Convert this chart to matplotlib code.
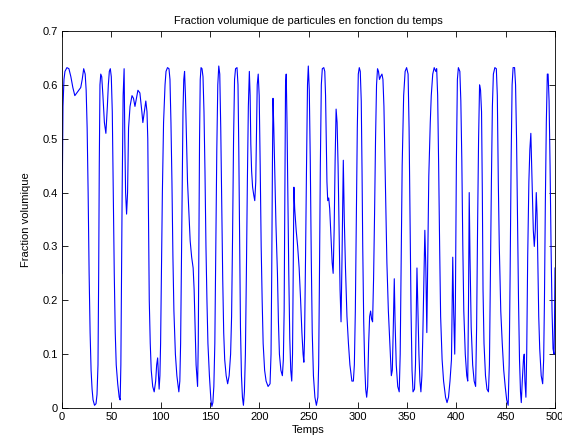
import matplotlib
matplotlib.use("Agg")
import matplotlib.pyplot as plt

plt.rcParams['font.family'] = ['Liberation Sans', 'DejaVu Sans']

temps = [0, 0.5, 1, 2, 3, 5, 7, 9, 11, 13, 15, 17, 19, 20.5, 22, 23.5, 24.5, 25.5, 26.5, 27.5,
         28.5, 29.5, 30.5, 31.5, 33, 34.5, 35.5, 36.5, 37.2, 37.8, 38.5, 39.3, 40.3, 41.5, 43, 44.5, 46, 47, 48, 49,
         50, 51, 52, 53, 54, 55, 56.5, 58, 59, 59.7, 60.3, 61, 62, 63, 63.7, 64.5, 65.5, 66.5, 67.5, 69,
         71, 72.5, 74, 75.5, 77, 79, 81, 82, 83.5, 85, 86.2, 87, 87.7, 88.5, 89.5, 90.5, 92, 93.5, 95, 96,
         97, 97.8, 98.5, 99.3, 100, 100.8, 101.8, 103, 104.5, 105.5, 107, 108.5, 109.5, 110.5, 111.5, 112.5, 113.5, 115, 116.5, 118.5,
         119.5, 120.3, 121, 121.8, 122.7, 123.5, 124.3, 125.2, 126.2, 127.3, 128.5, 130, 131.5, 133, 134, 135, 136, 137.5, 138.2, 138.8,
         139.5, 140.2, 141, 142, 143, 144, 145, 146, 147, 148, 149.5, 151, 152, 153, 154, 155, 156, 157, 158, 159,
         160, 161, 162, 163, 164, 165, 166.5, 168, 169.5, 171, 172, 173, 174, 175, 176, 177.5, 178.5, 179.3, 180.2, 181,
         182, 183, 184, 185, 186, 187, 188, 189, 190, 190.8, 191.5, 192.3, 193.3, 194.5, 195.5, 196.5, 197.3, 198, 199, 200,
         201, 202, 203, 204, 205.5, 207, 209, 211, 212, 212.7, 213.4, 214, 214.8, 215.8, 217, 218.5, 219.5, 220.5, 222, 223.5,
         224.5, 225.3, 226, 226.7, 227.4, 228.2, 229, 230, 231, 232, 233, 233.8, 234.5, 235.2, 236, 237.5, 239, 240.5, 242, 243.3,
         244.5, 245.3, 246, 247, 248, 249, 249.8, 250.8, 251.8, 252.8, 253.8, 255, 256.5, 258, 259.5, 260.3, 261, 262, 263, 264,
         265.5, 266.5, 267.3, 268, 268.7, 269.5, 270.5, 271.5, 272.5, 274, 275, 276, 277, 278, 279, 280, 281, 282, 283, 284,
         285.3, 286.3, 287.5, 289, 290.5, 292, 294, 295.5, 296.5, 297.5, 298.5, 299.5, 300.5, 301.5, 302.5, 303.5, 304.3, 305, 306, 307,
         308, 309, 310, 311, 312, 313, 314, 315, 316, 317, 318, 319, 320, 321, 322, 323, 324.5, 325.5, 326.5, 327.5,
         328.5, 329.5, 331, 332.5, 334, 335, 336, 337, 337.8, 339, 340.5, 342, 343, 344, 345, 346.5, 348, 349.5, 351, 352,
         353, 354, 355, 356, 357.5, 358.5, 359.3, 360, 361, 362, 363, 364, 365, 366, 367, 368, 369, 370, 371, 372,
         373.5, 374.5, 376, 377.5, 379, 380, 381, 382, 383, 384, 385.5, 387, 389, 390.5, 392, 393.5, 395, 396.3, 397.2, 398.3,
         399, 400, 401, 402, 403.5, 404.5, 405.5, 406.5, 407.5, 409, 410.5, 411.5, 412.3, 413, 413.8, 415, 416.5, 418, 419.5, 420.5,
         421.5, 422.5, 423.5, 424.5, 425.5, 426.3, 427, 428, 429.5, 431, 432.5, 433.5, 434.5, 435.5, 436.5, 437.5, 439, 440.5, 441.5, 442.5,
         443.5, 445, 446.5, 448, 449.5, 451, 452.5, 453.5, 454.5, 455.5, 456.5, 457.5, 459, 460, 461, 462, 463, 464, 465, 465.8,
         466.8, 468, 468.8, 469.5, 470.5, 471.3, 472.3, 473.5, 474.5, 475.5, 476.3, 477.2, 478, 479, 480, 481, 481.8, 482.5, 483.5, 484.5,
         486, 487.5, 488.5, 489.3, 490.2, 491.2, 492.2, 493, 494, 495, 496, 497, 498, 499, 499.5, 500]
fraction = [0.25, 0.45, 0.56, 0.61, 0.625, 0.632, 0.63, 0.615, 0.595, 0.58, 0.585, 0.59, 0.595, 0.61, 0.63, 0.62, 0.59, 0.52, 0.40, 0.25,
            0.14, 0.07, 0.035, 0.015, 0.005, 0.008, 0.025, 0.08, 0.25, 0.45, 0.60, 0.62, 0.615, 0.58, 0.53, 0.51, 0.56, 0.60, 0.625, 0.63,
            0.615, 0.55, 0.40, 0.25, 0.14, 0.08, 0.045, 0.02, 0.015, 0.08, 0.22, 0.40, 0.58, 0.63, 0.50, 0.40, 0.36, 0.40, 0.52, 0.56,
            0.58, 0.575, 0.56, 0.575, 0.59, 0.585, 0.55, 0.53, 0.55, 0.57, 0.55, 0.50, 0.35, 0.20, 0.12, 0.07, 0.04, 0.03, 0.05, 0.08,
            0.093, 0.06, 0.035, 0.06, 0.12, 0.25, 0.40, 0.53, 0.60, 0.625, 0.632, 0.63, 0.61, 0.53, 0.42, 0.28, 0.18, 0.10, 0.06, 0.03,
            0.05, 0.12, 0.25, 0.40, 0.55, 0.61, 0.625, 0.58, 0.50, 0.42, 0.37, 0.31, 0.28, 0.26, 0.22, 0.15, 0.08, 0.04, 0.12, 0.30,
            0.50, 0.61, 0.632, 0.63, 0.615, 0.55, 0.44, 0.30, 0.20, 0.12, 0.06, 0.015, 0.003, 0.01, 0.04, 0.12, 0.30, 0.48, 0.60, 0.635,
            0.62, 0.52, 0.38, 0.24, 0.14, 0.09, 0.06, 0.045, 0.06, 0.10, 0.17, 0.32, 0.50, 0.61, 0.63, 0.632, 0.60, 0.48, 0.30, 0.15,
            0.06, 0.02, 0.005, 0.03, 0.10, 0.25, 0.42, 0.56, 0.625, 0.58, 0.49, 0.44, 0.41, 0.395, 0.385, 0.42, 0.52, 0.60, 0.62, 0.58,
            0.45, 0.30, 0.20, 0.12, 0.07, 0.05, 0.04, 0.045, 0.10, 0.25, 0.45, 0.575, 0.52, 0.44, 0.34, 0.25, 0.16, 0.10, 0.07, 0.06,
            0.09, 0.18, 0.40, 0.60, 0.62, 0.53, 0.40, 0.25, 0.13, 0.07, 0.05, 0.10, 0.25, 0.41, 0.37, 0.33, 0.30, 0.26, 0.20, 0.14,
            0.10, 0.085, 0.13, 0.28, 0.45, 0.60, 0.635, 0.59, 0.46, 0.28, 0.14, 0.06, 0.02, 0.005, 0.02, 0.08, 0.22, 0.45, 0.60, 0.63,
            0.632, 0.625, 0.58, 0.50, 0.42, 0.385, 0.39, 0.37, 0.33, 0.27, 0.25, 0.33, 0.46, 0.555, 0.53, 0.45, 0.34, 0.22, 0.16, 0.28,
            0.46, 0.35, 0.26, 0.17, 0.12, 0.08, 0.05, 0.05, 0.08, 0.18, 0.35, 0.52, 0.62, 0.632, 0.625, 0.57, 0.44, 0.30, 0.16, 0.08,
            0.035, 0.02, 0.04, 0.12, 0.17, 0.18, 0.165, 0.16, 0.24, 0.36, 0.50, 0.60, 0.63, 0.625, 0.61, 0.615, 0.62, 0.61, 0.56, 0.46,
            0.36, 0.27, 0.18, 0.12, 0.06, 0.07, 0.15, 0.24, 0.16, 0.08, 0.04, 0.03, 0.10, 0.28, 0.45, 0.58, 0.625, 0.632, 0.62, 0.52,
            0.35, 0.18, 0.07, 0.03, 0.035, 0.08, 0.18, 0.26, 0.18, 0.10, 0.05, 0.03, 0.06, 0.14, 0.24, 0.33, 0.26, 0.14, 0.28, 0.43,
            0.53, 0.58, 0.62, 0.632, 0.625, 0.63, 0.58, 0.45, 0.30, 0.17, 0.09, 0.05, 0.02, 0.01, 0.02, 0.05, 0.09, 0.28, 0.18, 0.10,
            0.20, 0.46, 0.61, 0.632, 0.625, 0.57, 0.46, 0.30, 0.18, 0.10, 0.06, 0.05, 0.20, 0.40, 0.28, 0.15, 0.08, 0.05, 0.04, 0.15,
            0.34, 0.50, 0.60, 0.59, 0.55, 0.40, 0.22, 0.12, 0.06, 0.035, 0.03, 0.08, 0.25, 0.42, 0.56, 0.62, 0.632, 0.63, 0.58, 0.42,
            0.30, 0.18, 0.12, 0.07, 0.04, 0.015, 0.005, 0.08, 0.25, 0.46, 0.60, 0.632, 0.632, 0.60, 0.50, 0.35, 0.20, 0.09, 0.03, 0.01,
            0.05, 0.09, 0.10, 0.05, 0.02, 0.10, 0.28, 0.42, 0.48, 0.51, 0.45, 0.38, 0.33, 0.30, 0.33, 0.40, 0.36, 0.28, 0.17, 0.11,
            0.06, 0.045, 0.09, 0.20, 0.38, 0.53, 0.62, 0.62, 0.57, 0.45, 0.30, 0.18, 0.11, 0.10, 0.16, 0.26]

x_ticks = [0, 50, 100, 150, 200, 250, 300, 350, 400, 450, 500]
y_ticks = [0, 0.1, 0.2, 0.3, 0.4, 0.5, 0.6, 0.7]
y_tick_labels = ["0", "0.1", "0.2", "0.3", "0.4", "0.5", "0.6", "0.7"]

fig = plt.figure(figsize=(5.62, 4.40), dpi=100)
ax = fig.add_axes([62/562, 32/440, 493/562, 377/440])
ax.plot(temps, fraction, color=(0, 0, 1), linewidth=0.8)
ax.set_xlim(0, 500)
ax.set_ylim(0, 0.7)
ax.set_xticks(x_ticks)
ax.set_xticklabels([str(t) for t in x_ticks])
ax.set_yticks(y_ticks)
ax.set_yticklabels(y_tick_labels)
ax.tick_params(direction='in', length=4, width=0.6, labelsize=8, top=True, right=True, pad=3)
for s in ax.spines.values():
    s.set_linewidth(0.6)
ax.set_title("Fraction volumique de particules en fonction du temps", fontsize=8, pad=5)
ax.set_xlabel("Temps", fontsize=8, labelpad=2)
ax.set_ylabel("Fraction volumique", fontsize=8, labelpad=8)
fig.savefig("out.png", dpi=100)
